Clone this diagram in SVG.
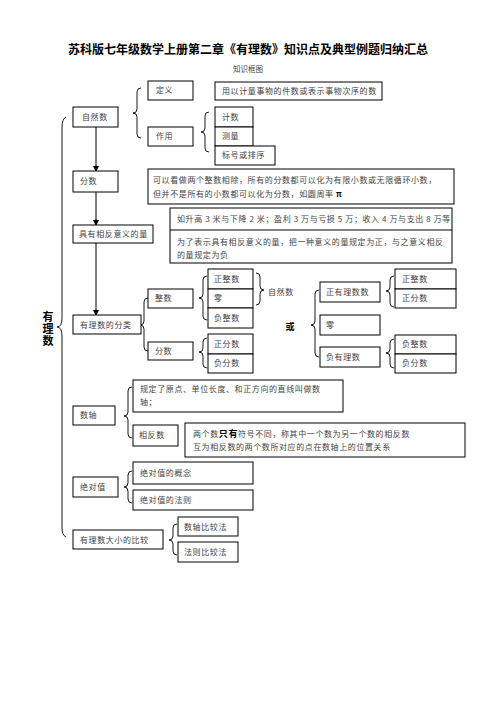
<svg xmlns="http://www.w3.org/2000/svg" width="496" height="702" viewBox="0 0 496 702">
<style>
  .bx { fill: #fff; stroke: #000; stroke-width: 1; }
  .t { font-family: "Noto Sans CJK SC", "Noto Sans", sans-serif; font-size: 8px; fill: #444; letter-spacing: 0.6px; }
  .br { fill: none; stroke: #000; stroke-width: 0.9; }
  .ln { fill: none; stroke: #000; stroke-width: 1; }
  .b { font-weight: bold; fill: #000; }
  .v { font-family: "Noto Sans CJK SC", sans-serif; font-size: 11px; font-weight: bold; fill: #000; writing-mode: vertical-rl; letter-spacing: 1px; }
</style>
<defs>
  <marker id="ah" markerWidth="6" markerHeight="6" refX="5" refY="3" orient="auto" markerUnits="userSpaceOnUse">
    <path d="M0,0 L6,3 L0,6 Z" fill="#000"/>
  </marker>
</defs>
<rect width="496" height="702" fill="#fff"/>

<text x="248" y="54" text-anchor="middle" font-family="Noto Sans CJK SC, sans-serif" font-size="12" font-weight="bold" fill="#000">苏科版七年级数学上册第二章《有理数》知识点及典型例题归纳汇总</text>
<text x="248" y="72" text-anchor="middle" font-family="Noto Sans CJK SC, sans-serif" font-size="7.5" fill="#444">知识框图</text>

<g id="connectors">
  <line class="ln" x1="96" y1="127" x2="96" y2="171" marker-end="url(#ah)"/>
  <line class="ln" x1="96" y1="192" x2="96" y2="225" marker-end="url(#ah)"/>
  <line class="ln" x1="96" y1="243" x2="96" y2="315" marker-end="url(#ah)"/>
  <path class="br" d="M66,117 Q62,119 62,127 L62,318 Q62,327 57,327 Q62,327 62,336 L62,528 Q62,535 66,537"/>
  <path class="br" d="M141,88 Q137,88 137,92 L137,109 Q137,113 133,113 Q137,113 137,117 L137,134 Q137,138 141,138"/>
  <path class="br" d="M209,112 Q205,112 205,116 L205,128 Q205,132 201,132 Q205,132 205,136 L205,148 Q205,152 209,152"/>
  <path class="br" d="M148,298 Q144,298 144,302 L144,321 Q144,325 140,325 Q144,325 144,329 L144,347 Q144,351 148,351"/>
  <path class="br" d="M207,276 Q203,276 203,280 L203,294 Q203,298 199,298 Q203,298 203,302 L203,316 Q203,320 207,320"/>
  <path class="br" d="M207,338 Q203,338 203,342 L203,348 Q203,352 199,352 Q203,352 203,356 L203,364 Q203,368 207,368"/>
  <path class="br" d="M256,273 Q260,273 260,277 L260,286 Q260,290 264,290 Q260,290 260,294 L260,301 Q260,305 256,305"/>
  <path class="br" d="M319,290 Q315,290 315,294 L315,321 Q315,325 311,325 Q315,325 315,329 L315,353 Q315,357 319,357"/>
  <path class="br" d="M394,276 Q390,276 390,280 L390,287 Q390,291 386,291 Q390,291 390,295 L390,303 Q390,307 394,307"/>
  <path class="br" d="M394,339 Q390,339 390,343 L390,349 Q390,353 386,353 Q390,353 390,357 L390,364 Q390,368 394,368"/>
  <path class="br" d="M132,387 Q128,387 128,391 L128,412 Q128,416 124,416 Q128,416 128,420 L128,434 Q128,438 132,438"/>
  <path class="br" d="M132,471 Q128,471 128,475 L128,483 Q128,487 124,487 Q128,487 128,491 L128,499 Q128,503 132,503"/>
  <path class="br" d="M177,524 Q173,524 173,528 L173,536 Q173,540 169,540 Q173,540 173,544 L173,551 Q173,555 177,555"/>
</g>

<g id="rational-label">
  <text class="v" x="48" y="311">有理数</text>
</g>

<g id="n-natural"><rect class="bx" x="73" y="107" width="45" height="20"/><text class="t" x="82" y="120">自然数</text></g>
<g id="n-def"><rect class="bx" x="148" y="81" width="45" height="19"/><text class="t" x="156" y="93">定义</text></g>
<g id="n-def-text"><rect class="bx" x="215" y="82" width="167" height="18"/><text class="t" x="222" y="94">用以计量事物的件数或表示事物次序的数</text></g>
<g id="n-use"><rect class="bx" x="148" y="127" width="45" height="19"/><text class="t" x="156" y="139">作用</text></g>
<g id="n-count"><rect class="bx" x="215" y="107" width="38" height="20"/><text class="t" x="222" y="120">计数</text></g>
<g id="n-measure"><rect class="bx" x="215" y="127" width="38" height="19"/><text class="t" x="222" y="139">测量</text></g>
<g id="n-label"><rect class="bx" x="215" y="146" width="60" height="19"/><text class="t" x="222" y="158">标号或排序</text></g>

<g id="n-fraction"><rect class="bx" x="73" y="171" width="45" height="21"/><text class="t" x="80" y="184">分数</text></g>
<g id="n-fraction-text"><rect class="bx" x="148" y="169" width="306" height="35"/>
  <text class="t" x="153" y="183" letter-spacing="1.1">可以看做两个整数相除，所有的分数都可以化为有限小数或无限循环小数，</text>
  <text class="t" x="153" y="197" letter-spacing="1.1">但并不是所有的小数都可以化为分数，如圆周率 <tspan class="b">π</tspan></text></g>

<g id="n-opposite-qty"><rect class="bx" x="73" y="225" width="80" height="18"/><text class="t" x="79" y="237">具有相反意义的量</text></g>
<g id="n-opposite-text"><rect class="bx" x="170" y="208" width="282" height="55"/><line class="ln" x1="170" y1="230" x2="452" y2="230"/>
  <text class="t" x="177" y="222">如升高 3 米与下降 2 米；盈利 3 万与亏损 5 万；收入 4 万与支出 8 万等</text>
  <text class="t" x="177" y="245">为了表示具有相反意义的量，把一种意义的量规定为正，与之意义相反</text>
  <text class="t" x="177" y="258">的量规定为负</text></g>

<g id="n-classify"><rect class="bx" x="73" y="315" width="68" height="19"/><text class="t" x="80" y="328">有理数的分类</text></g>
<g id="n-integer"><rect class="bx" x="148" y="289" width="45" height="19"/><text class="t" x="155" y="301">整数</text></g>
<g id="n-frac2"><rect class="bx" x="148" y="342" width="45" height="18"/><text class="t" x="155" y="354">分数</text></g>
<g id="n-posint"><rect class="bx" x="208" y="269" width="45" height="20"/><text class="t" x="214" y="282">正整数</text></g>
<g id="n-zero"><rect class="bx" x="208" y="289" width="45" height="19"/><text class="t" x="214" y="301">零</text></g>
<g id="n-negint"><rect class="bx" x="208" y="308" width="45" height="20"/><text class="t" x="214" y="321">负整数</text></g>
<g id="n-posfrac"><rect class="bx" x="208" y="334" width="45" height="20"/><text class="t" x="214" y="347">正分数</text></g>
<g id="n-negfrac"><rect class="bx" x="208" y="354" width="45" height="19"/><text class="t" x="214" y="366">负分数</text></g>
<g id="n-natlabel"><text class="t" x="268" y="295">自然数</text></g>
<g id="n-or"><text x="290" y="330" text-anchor="middle" font-family="Noto Sans CJK SC, sans-serif" font-size="9" font-weight="bold" fill="#000">或</text></g>
<g id="n-posrat"><rect class="bx" x="320" y="282" width="60" height="20"/><text class="t" x="326" y="295">正有理数数</text></g>
<g id="n-zero2"><rect class="bx" x="320" y="315" width="60" height="20"/><text class="t" x="326" y="328">零</text></g>
<g id="n-negrat"><rect class="bx" x="320" y="347" width="60" height="20"/><text class="t" x="326" y="360">负有理数</text></g>
<g id="n-posint2"><rect class="bx" x="395" y="269" width="61" height="20"/><text class="t" x="402" y="282">正整数</text></g>
<g id="n-posfrac2"><rect class="bx" x="395" y="289" width="61" height="19"/><text class="t" x="402" y="301">正分数</text></g>
<g id="n-negint2"><rect class="bx" x="395" y="335" width="61" height="19"/><text class="t" x="402" y="347">负整数</text></g>
<g id="n-negfrac2"><rect class="bx" x="395" y="354" width="61" height="19"/><text class="t" x="402" y="366">负分数</text></g>

<g id="n-axis"><rect class="bx" x="73" y="406" width="42" height="19"/><text class="t" x="80" y="418">数轴</text></g>
<g id="n-axis-def"><rect class="bx" x="133" y="380" width="210" height="32"/>
  <text class="t" x="140" y="392" letter-spacing="1.3">规定了原点、单位长度、和正方向的直线叫做数</text>
  <text class="t" x="140" y="405">轴；</text></g>
<g id="n-oppnum"><rect class="bx" x="133" y="425" width="45" height="21"/><text class="t" x="139" y="438">相反数</text></g>
<g id="n-oppnum-text"><rect class="bx" x="185" y="423" width="280" height="34"/>
  <text class="t" x="193" y="437">两个数<tspan class="b" font-size="9">只有</tspan>符号不同，称其中一个数为另一个数的相反数</text>
  <text class="t" x="193" y="450">互为相反数的两个数所对应的点在数轴上的位置关系</text></g>

<g id="n-abs"><rect class="bx" x="73" y="477" width="45" height="20"/><text class="t" x="80" y="490">绝对值</text></g>
<g id="n-abs-concept"><rect class="bx" x="133" y="462" width="120" height="22"/><text class="t" x="140" y="476">绝对值的概念</text></g>
<g id="n-abs-rule"><rect class="bx" x="133" y="490" width="120" height="20"/><text class="t" x="140" y="503">绝对值的法则</text></g>

<g id="n-compare"><rect class="bx" x="73" y="530" width="90" height="19"/><text class="t" x="80" y="543">有理数大小的比较</text></g>
<g id="n-cmp-axis"><rect class="bx" x="178" y="517" width="60" height="19"/><text class="t" x="184" y="530">数轴比较法</text></g>
<g id="n-cmp-rule"><rect class="bx" x="178" y="542" width="60" height="20"/><text class="t" x="184" y="555">法则比较法</text></g>
</svg>
